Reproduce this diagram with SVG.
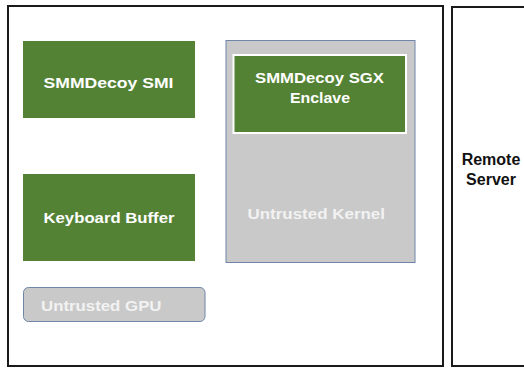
<svg xmlns="http://www.w3.org/2000/svg" width="524" height="368" viewBox="0 0 524 368">
<style>
.frame{fill:#fff;stroke:#1a1a1a;stroke-width:2}
.green{fill:#548235}
.gray{fill:#c9c9c9;stroke:#6f86aa;stroke-width:1}
text{font-family:"Liberation Sans",Arial,sans-serif;font-weight:bold;font-size:15px}
.w{fill:#ffffff}
.lt{fill:#f2f2f2}
.dk{fill:#111111;font-size:16px}
</style>
<rect width="524" height="368" fill="#fff"/>
<g id="host">
<rect class="frame" x="8" y="6" width="435" height="360"/>
</g>
<g id="remote-server">
<rect class="frame" x="452" y="7" width="90" height="359"/>
<text class="dk" x="491" y="165" text-anchor="middle">Remote</text>
<text class="dk" x="491" y="185" text-anchor="middle">Server</text>
</g>
<g id="smi">
<rect class="green" x="23" y="41" width="172" height="77"/>
<text class="w" x="43.5" y="87.5" textLength="130" lengthAdjust="spacingAndGlyphs">SMMDecoy SMI</text>
</g>
<g id="kernel">
<rect class="gray" x="226" y="40.5" width="189" height="222"/>
<text class="lt" x="247.5" y="219" textLength="137.5" lengthAdjust="spacingAndGlyphs">Untrusted Kernel</text>
</g>
<g id="enclave">
<rect class="green" x="233.5" y="55" width="172.5" height="78" stroke="#ffffff" stroke-width="2"/>
<text class="w" x="255" y="82.5" textLength="129" lengthAdjust="spacingAndGlyphs">SMMDecoy SGX</text>
<text class="w" x="290" y="102.5" textLength="60" lengthAdjust="spacingAndGlyphs">Enclave</text>
</g>
<g id="keyboard">
<rect class="green" x="23" y="174" width="172" height="87"/>
<text class="w" x="43.5" y="223" textLength="131" lengthAdjust="spacingAndGlyphs">Keyboard Buffer</text>
</g>
<g id="gpu">
<rect class="gray" x="23.5" y="287.5" width="181.5" height="34" rx="5"/>
<text class="lt" x="41" y="310.5" textLength="120.5" lengthAdjust="spacingAndGlyphs">Untrusted GPU</text>
</g>
<g id="connectors"></g>
</svg>
